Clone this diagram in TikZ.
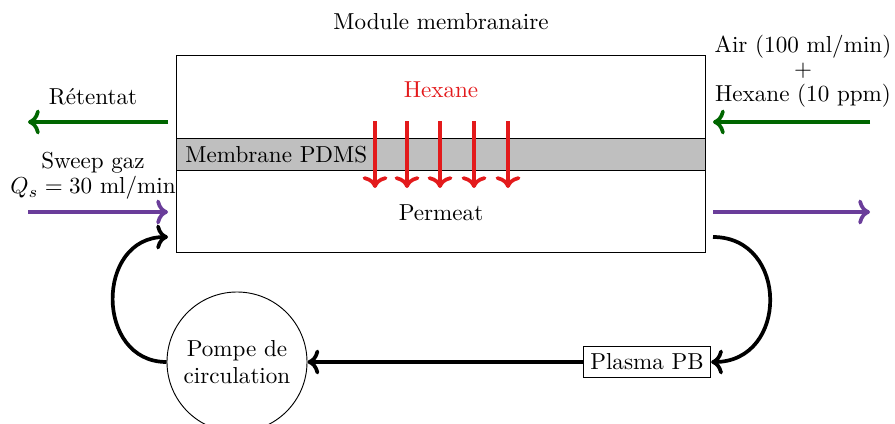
\documentclass[tikz,border=0pt]{standalone}
\usetikzlibrary{arrows.meta}
\definecolor{hexred}{RGB}{227,26,28}
\definecolor{retgreen}{RGB}{0,102,0}
\definecolor{swpurple}{RGB}{106,61,154}
\begin{document}
\begin{tikzpicture}[x=0.01522cm,y=-0.01522cm,
  flow/.style={ultra thick,->},
  lbl/.style={align=center,inner sep=0pt}]
\useasboundingbox (0,0) rectangle (895,423);
% module
\node[draw,minimum width=8.04cm,minimum height=3.01cm,inner sep=0pt] (module) at (441,154) {};
\node[draw,fill=lightgray,minimum width=8.04cm,minimum height=0.5cm,inner sep=0pt] (membrane) at (441,154.5) {};
\node[anchor=west,inner sep=0pt] (pdms) at (185,155) {Membrane PDMS};
\node[lbl] (title) at (441,22) {Module membranaire};
\node[lbl,text=hexred] (hexane) at (441,90) {Hexane};
\node[lbl] (permeat) at (441,213) {Permeat};
% red arrows
\foreach \x/\n in {375/a,407/b,440/c,474/d,508/e}{
  \coordinate (r\n1) at (\x,121);
  \coordinate (r\n2) at (\x,188);
  \draw[flow,hexred] (r\n1) -- (r\n2);
}
% green arrows
\coordinate (gl1) at (168,122); \coordinate (gl2) at (28,122);
\coordinate (gr1) at (870,122); \coordinate (gr2) at (713,122);
\draw[flow,retgreen] (gl1) -- (gl2);
\draw[flow,retgreen] (gr1) -- (gr2);
% purple arrows
\coordinate (pl1) at (28,212); \coordinate (pl2) at (168,212);
\coordinate (pr1) at (713,212); \coordinate (pr2) at (870,212);
\draw[flow,swpurple] (pl1) -- (pl2);
\draw[flow,swpurple] (pr1) -- (pr2);
% labels
\node[lbl] (ret) at (93,97) {R\'etentat};
\node[lbl] (sweep) at (93,176) {Sweep gaz\\[-1.3pt]$Q_s=30$ ml/min};
\node[lbl] (air) at (803,71) {Air (100 ml/min)\\[-1.3pt]$+$\\[-1.3pt]Hexane (10 ppm)};
% loop
\node[draw,circle,minimum size=2.13cm,inner sep=0pt,align=center] (pompe) at (237,362) {Pompe de\\circulation};
\node[draw,inner sep=3pt] (plasma) at (647,362) {Plasma PB};
\coordinate (inA) at (168,237);
\coordinate (outA) at (713,237);
\draw[flow] (plasma.west) -- (pompe.east);
\draw[flow] (pompe.west) .. controls (95,362) and (95,237) .. (inA);
\draw[flow] (outA) .. controls (789,237) and (789,362) .. (plasma.east);
\end{tikzpicture}
\end{document}
